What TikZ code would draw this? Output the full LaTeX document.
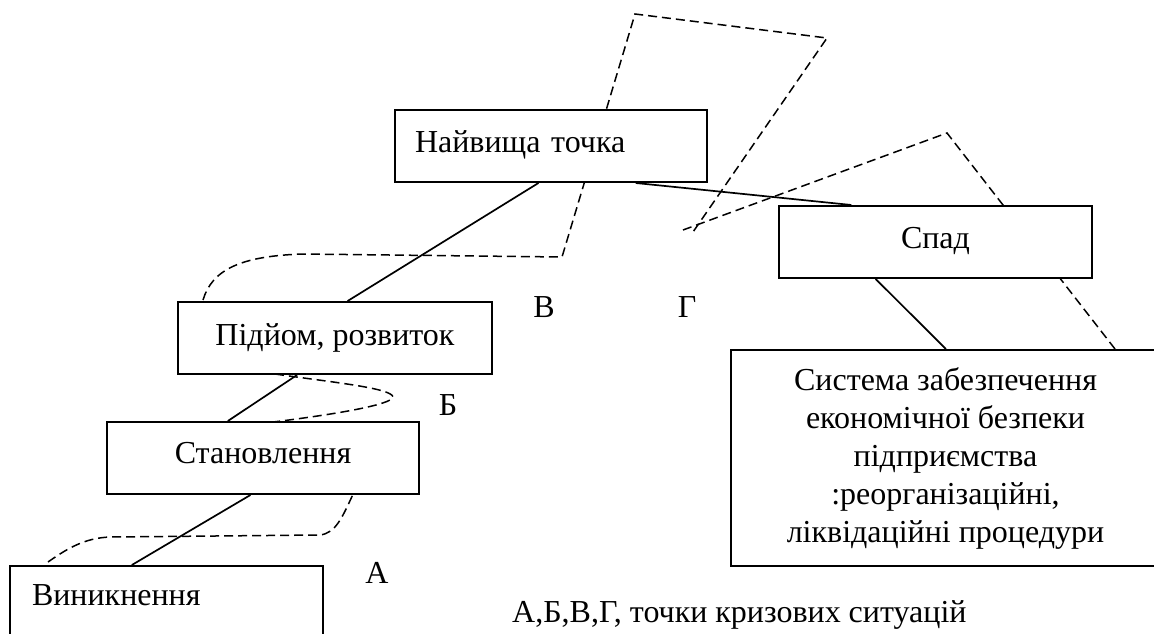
\documentclass[tikz,border=0pt]{standalone}
\usepackage{fontspec}
\setmainfont{Liberation Serif}
\usetikzlibrary{calc}
\begin{document}
\begin{tikzpicture}[x=1pt,y=-1pt,
  txt/.style={font=\fontsize{32pt}{38pt}\selectfont},
  box/.style={draw,line width=2pt,fill=white,rectangle,inner sep=0pt,txt},
  conn/.style={line width=1.7pt},
  dsh/.style={line width=1.5pt,dash pattern=on 9pt off 5pt},
  lbl/.style={inner sep=0pt,txt}]
\useasboundingbox (0,0) rectangle (1154,634);
% dashed crisis curves (behind boxes)
\draw[dsh] (48,562) .. controls (68,548) and (85,538) .. (110,537) -- (320,535)
  .. controls (336,533) and (342,518) .. (355,490);
\draw[dsh] (275,374) .. controls (330,382) and (392,388) .. (393,397)
  .. controls (392,405) and (330,415) .. (273,422);
\draw[dsh] (203,300) .. controls (212,270) and (240,256) .. (303,254) -- (562,257)
  -- (635,14) -- (827,38) -- (693,232);
\draw[dsh] (683,230) -- (947,133) -- (1115,349);
% boxes
\node[box,text width=269pt,inner xsep=22pt,minimum height=74pt,align=left] (vin) at (166.5,603) {\raisebox{15pt}{Виникнення}};
\node[box,minimum width=312pt,minimum height=72pt] (stan) at (263,458) {\raisebox{10pt}{Становлення}};
\node[box,minimum width=314pt,minimum height=72pt] (pid) at (335,338) {\raisebox{6pt}{Підйом, розвиток}};
\node[box,text width=272pt,inner xsep=20pt,minimum height=72pt,align=left] (nai) at (551,146) {\raisebox{9pt}{Найвища точка}};
\node[box,minimum width=313pt,minimum height=72pt] (spad) at (935.5,242) {\raisebox{9pt}{Спад}};
\node[box,minimum width=429pt,minimum height=216pt,align=center] (sys) at (945.5,458)
  {Система забезпечення\\економічної безпеки\\підприємства\\:реорганізаційні,\\ліквідаційні процедури};
% connectors
\draw[conn] ($(vin.north west)!0.39!(vin.north east)$) -- ($(stan.south west)!0.46!(stan.south east)$);
\draw[conn] ($(stan.north west)!0.388!(stan.north east)$) -- ($(pid.south west)!0.38!(pid.south east)$);
\draw[conn] ($(pid.north west)!0.54!(pid.north east)$) -- ($(nai.south west)!0.46!(nai.south east)$);
\draw[conn] ($(nai.south west)!0.77!(nai.south east)$) -- ($(spad.north west)!0.233!(spad.north east)$);
\draw[conn] ($(spad.south west)!0.31!(spad.south east)$) -- ($(sys.north west)!0.501!(sys.north east)$);
% labels
\node[lbl] (la) at (377,573) {А};
\node[lbl] (lb) at (448,405) {Б};
\node[lbl] (lv) at (544,307) {В};
\node[lbl] (lg) at (687,307) {Г};
\node[lbl,anchor=base west] (leg) at (512,622) {А,Б,В,Г, точки кризових ситуацій};
\end{tikzpicture}
\end{document}
